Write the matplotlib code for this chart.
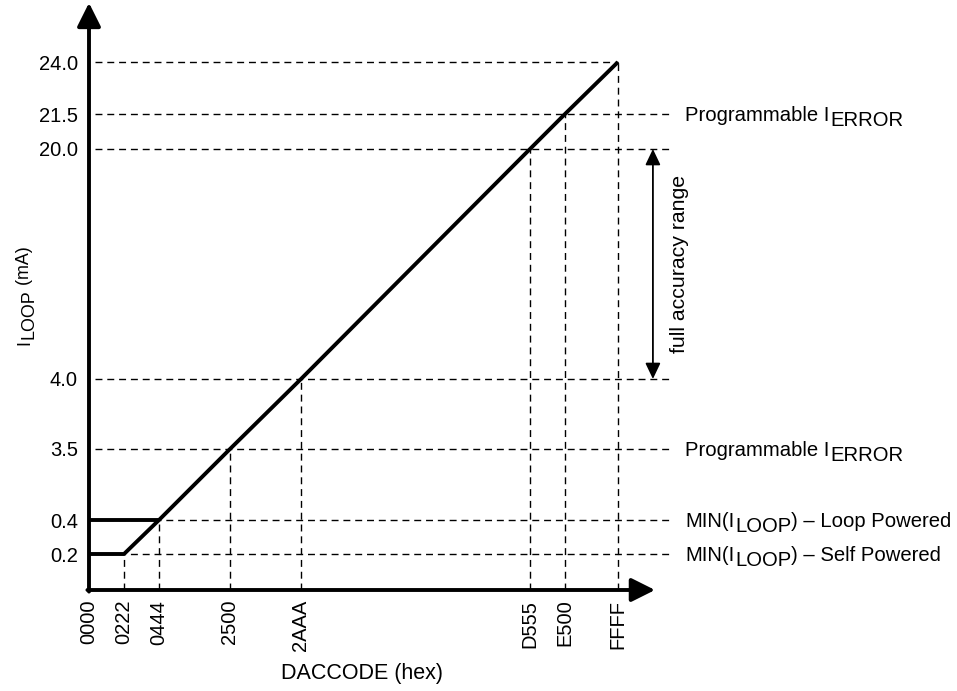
import matplotlib
matplotlib.use("Agg")
import matplotlib.pyplot as plt
from matplotlib.ticker import FixedLocator, NullLocator
import numpy as np

plt.rcParams['font.family'] = ['Liberation Sans', 'DejaVu Sans']

# ==== データ ====
dac_labels = ["0000", "0222", "0444", "2500", "2AAA", "D555", "E500", "FFFF"]
dac_codes = [int(s, 16) for s in dac_labels]
loop_ma = [0.2, 0.2, 0.4, 3.5, 4.0, 20.0, 21.5, 24.0]   # I_LOOP at each code
y_ticks = [0.2, 0.4, 3.5, 4.0, 20.0, 21.5, 24.0]
y_tick_labels = ["0.2", "0.4", "3.5", "4.0", "20.0", "21.5", "24.0"]
loop_powered_min = 0.4
accuracy_range = (4.0, 20.0)
# (main, subscript, rest)
right_labels = {
    21.5: ("Programmable I", "ERROR", ""),
    3.5: ("Programmable I", "ERROR", ""),
    0.4: ("MIN(I", "LOOP", ") – Loop Powered"),
    0.2: ("MIN(I", "LOOP", ") – Self Powered"),
}

# ==== 模式図の軸 (区分線形スケール) ====
x_vals = dac_codes
x_pos = [0, 35, 70, 141, 212, 441, 476, 529]
y_vals = [0.0] + y_ticks
y_pos = [0, 36, 70, 141, 211, 441, 476, 528]

def fx(v): return np.interp(v, x_vals, x_pos)
def ix(p): return np.interp(p, x_pos, x_vals)
def fy(v): return np.interp(v, y_vals, y_pos)
def iy(p): return np.interp(p, y_pos, y_vals)

W, H = 957, 691
fig = plt.figure(figsize=(W / 100, H / 100), dpi=100)
ax = fig.add_axes([89 / W, 101 / H, 529 / W, 528 / H])
ax.set_xscale('function', functions=(fx, ix))
ax.set_yscale('function', functions=(fy, iy))
ax.set_xlim(0, 0xFFFF)
ax.set_ylim(0, 24)
for s in ax.spines.values():
    s.set_visible(False)

ax.xaxis.set_major_locator(FixedLocator(dac_codes))
ax.xaxis.set_minor_locator(NullLocator())
ax.set_xticklabels(dac_labels, rotation=90, fontsize=14.5, va='top')
ax.yaxis.set_major_locator(FixedLocator(y_ticks))
ax.yaxis.set_minor_locator(NullLocator())
ax.set_yticklabels(y_tick_labels, fontsize=14.5)
ax.tick_params(axis='both', length=0)
ax.tick_params(axis='x', pad=7)
ax.tick_params(axis='y', pad=8)

dash = (0, (5, 3.5))
LW = 2.8
ytr = ax.get_yaxis_transform()

# 横の破線
for lvl in y_ticks:
    x_end = 1.0 if lvl == 24.0 else 1.102
    ax.plot([0.011, x_end], [lvl, lvl], transform=ytr, color='black',
            lw=1.0, linestyle=dash, clip_on=False, zorder=1)

# 縦の破線
ax.vlines(dac_codes[1:], 0, loop_ma[1:], colors='black', lw=1.0,
          linestyles=[dash], zorder=1, clip_on=False)

# 特性線
ax.plot(dac_codes, loop_ma, color='black', lw=LW, clip_on=False,
        solid_capstyle='butt', zorder=3)
ax.plot([0, dac_codes[2]], [loop_powered_min, loop_powered_min],
        color='black', lw=LW, solid_capstyle='butt', clip_on=False, zorder=3)

# 軸の矢印
arrow_big = dict(arrowstyle='-|>,head_length=0.8,head_width=0.4', lw=LW,
                 color='black', shrinkA=0, shrinkB=0, mutation_scale=18)
ax.annotate('', xy=(0, 1.112), xytext=(0, -0.003), xycoords='axes fraction',
            arrowprops=arrow_big, annotation_clip=False)
ax.annotate('', xy=(1.070, 0), xytext=(-0.003, 0), xycoords='axes fraction',
            arrowprops=arrow_big, annotation_clip=False)

# full accuracy range
ax.annotate('', xy=(1.066, accuracy_range[1]), xytext=(1.066, accuracy_range[0]),
            xycoords=ytr, annotation_clip=False,
            arrowprops=dict(arrowstyle='<|-|>,head_length=0.8,head_width=0.38',
                            lw=1.3, color='black', shrinkA=0, shrinkB=0,
                            mutation_scale=12))
ax.text(1.117, 12.0, "full accuracy range", transform=ytr, rotation=90,
        ha='center', va='center', fontsize=15.3)

# 右側のラベル (添字は同じ大きさで下にずらす)
FS = 14.6
SUB = 3.6
for lvl, (main, sub, rest) in right_labels.items():
    t1 = ax.annotate(main, xy=(1.127, lvl), xycoords=ytr, xytext=(0, -5),
                     textcoords='offset points', ha='left', va='baseline',
                     fontsize=FS, annotation_clip=False)
    t2 = ax.annotate(sub, xy=(1, lvl), xycoords=(t1, ytr),
                     xytext=(0.5, -5 - SUB), textcoords='offset points',
                     ha='left', va='baseline', fontsize=FS,
                     annotation_clip=False)
    if rest:
        ax.annotate(rest, xy=(1, lvl), xycoords=(t2, ytr), xytext=(0, -5),
                    textcoords='offset points', ha='left', va='baseline',
                    fontsize=FS, annotation_clip=False)

# 軸ラベル
YFS = 12.9
ya = ax.annotate("I", xy=(16 / W, 1 - 345 / H), xycoords='figure fraction',
                 rotation=90, ha='left', va='bottom', fontsize=YFS,
                 annotation_clip=False)
yb = ax.annotate("LOOP", xy=(0, 1), xycoords=ya, xytext=(3.2, 0.5),
                 textcoords='offset points', rotation=90, ha='left',
                 va='bottom', fontsize=YFS, annotation_clip=False)
ax.annotate(" (mA)", xy=(0, 1), xycoords=(ya, yb), rotation=90, ha='left',
            va='bottom', fontsize=YFS, annotation_clip=False)
fig.text(362 / W, 1 - 673 / H, "DACCODE (hex)", ha='center', va='center',
         fontsize=15.5)

fig.savefig("out.png", dpi=100)
